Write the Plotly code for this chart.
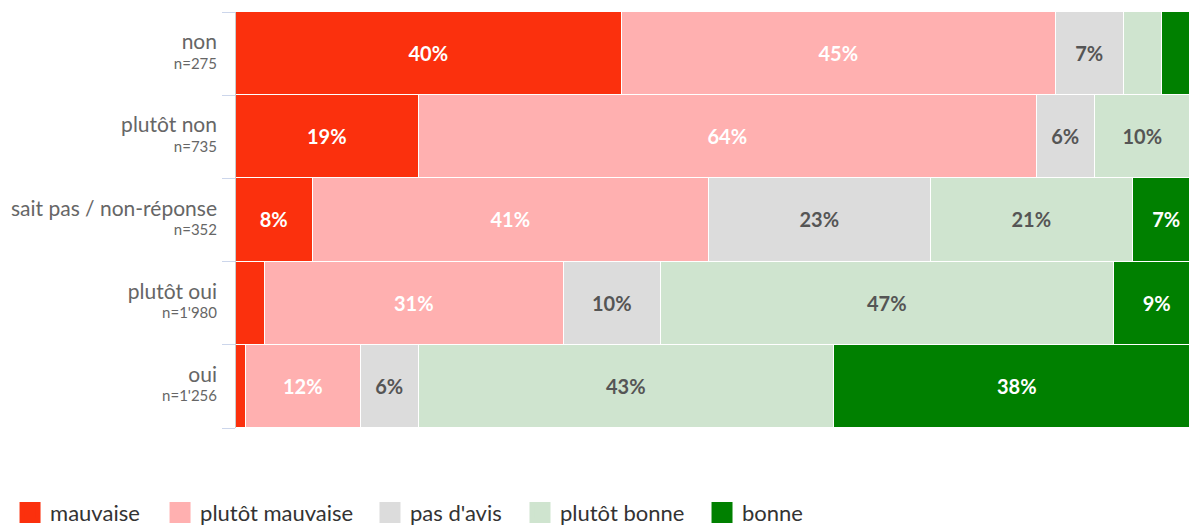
import plotly.graph_objects as go

categories = ["non", "plutôt non", "sait pas / non-réponse", "plutôt oui", "oui"]
sample_sizes = ["275", "735", "352", "1'980", "1'256"]

series_names = ["mauvaise", "plutôt mauvaise", "pas d'avis", "plutôt bonne", "bonne"]
mauvaise = [40, 19, 8, 3, 1]
plutot_mauvaise = [45, 64, 41, 31, 12]
pas_d_avis = [7, 6, 23, 10, 6]
plutot_bonne = [4, 10, 21, 47, 43]
bonne = [4, 1, 7, 9, 38]

series_values = [mauvaise, plutot_mauvaise, pas_d_avis, plutot_bonne, bonne]
colors = ["#fb300d", "#ffb0b0", "#dcdcdc", "#cfe4cf", "#008000"]
text_colors = ["#ffffff", "#ffffff", "#555555", "#555555", "#ffffff"]

FONT = "Lato"

ticktext = [
    f"<span style='font-size:21px'>{c}</span><br>n={n}"
    for c, n in zip(categories, sample_sizes)
]

legend_ids = ["legend", "legend2", "legend3", "legend4", "legend5"]
legend_x = [-0.2371, -0.0797, 0.1406, 0.2980, 0.4890]

fig = go.Figure()
for name, vals, col, tcol, lid in zip(series_names, series_values, colors, text_colors, legend_ids):
    fig.add_trace(go.Bar(
        y=categories,
        x=vals,
        name=name,
        orientation="h",
        marker=dict(color=col, line=dict(color="#ffffff", width=1.5)),
        text=[f"{v}%" if v >= 5 else "" for v in vals],
        textposition="inside",
        insidetextanchor="middle",
        textangle=0,
        textfont=dict(family=FONT, size=20, color=tcol, weight="bold"),
        showlegend=False,
        hoverinfo="skip",
    ))
    fig.add_trace(go.Scatter(
        x=[None], y=[None], mode="markers", name=name,
        marker=dict(symbol="square", size=16, color=col,
                    line=dict(color=col, width=5)),
        showlegend=True,
        legend=lid,
    ))

legend_layouts = {
    lid: dict(
        orientation="h",
        x=lx, xanchor="left",
        y=-0.153, yanchor="top",
        font=dict(family=FONT, size=22, color="#333333"),
        itemwidth=30,
        bgcolor="rgba(0,0,0,0)",
    )
    for lid, lx in zip(legend_ids, legend_x)
}

fig.update_layout(
    width=1189,
    height=528,
    barmode="stack",
    bargap=0,
    plot_bgcolor="#ffffff",
    paper_bgcolor="#ffffff",
    margin=dict(l=236, r=0, t=12, b=100, autoexpand=False),
    font=dict(family=FONT, color="#666666"),
    xaxis=dict(
        range=[0, 98.76],
        showgrid=False,
        zeroline=False,
        showticklabels=False,
        showline=False,
        fixedrange=True,
    ),
    yaxis=dict(
        categoryorder="array",
        categoryarray=categories,
        autorange="reversed",
        tickmode="array",
        tickvals=categories,
        ticktext=ticktext,
        tickson="boundaries",
        ticks="outside",
        ticklen=13,
        tickcolor="#ccd6eb",
        tickwidth=1,
        showline=True,
        linecolor="#cccccc",
        linewidth=1,
        tickfont=dict(family=FONT, size=15, color="#666666"),
        ticklabelstandoff=15,
        showgrid=False,
        fixedrange=True,
    ),
    **legend_layouts,
)

fig.write_html(
    "out.html",
    config={"displayModeBar": False},
    post_script="document.body.style.margin='0px';document.body.style.overflow='hidden';",
)
